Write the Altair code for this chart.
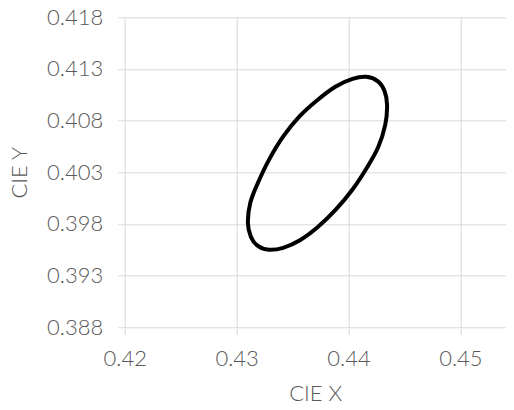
import altair as alt
import pandas as pd

# Ellipse outline points (CIE x, CIE y), traced around the loop
cie_x = [0.44345, 0.44329, 0.44266, 0.44163, 0.44036, 0.43886, 0.43726, 0.43566,
         0.43416, 0.43288, 0.43190, 0.43128, 0.43101, 0.43123, 0.43190, 0.43288,
         0.43417, 0.43566, 0.43726, 0.43886, 0.44036, 0.44159, 0.44263, 0.44323]
cie_y = [0.40950, 0.40761, 0.40544, 0.40341, 0.40133, 0.39938, 0.39770, 0.39642,
         0.39569, 0.39550, 0.39587, 0.39675, 0.39813, 0.40007, 0.40196, 0.40418,
         0.40647, 0.40845, 0.41002, 0.41130, 0.41204, 0.41224, 0.41180, 0.41085]

x_ticks = [0.42, 0.43, 0.44, 0.45]
y_ticks = [0.388, 0.393, 0.398, 0.403, 0.408, 0.413, 0.418]

df = pd.DataFrame({"x": cie_x, "y": cie_y, "i": list(range(len(cie_x)))})

FONT = "Lato"
TXT = "#595959"
GRID = "#d9d9d9"

chart = alt.Chart(df).mark_line(
    color="black", strokeWidth=4, interpolate="cardinal-closed"
).encode(
    x=alt.X("x:Q", scale=alt.Scale(domain=[0.42, 0.45405], nice=False, zero=False),
            axis=alt.Axis(values=x_ticks, format=".2f", title="CIE X",
                          titleY=73, titleBaseline="alphabetic",
                          labelPadding=14)),
    y=alt.Y("y:Q", scale=alt.Scale(domain=[0.388, 0.418], nice=False, zero=False),
            axis=alt.Axis(values=y_ticks, format=".3f", title="CIE Y",
                          titleX=-105, titleBaseline="middle",
                          labelPadding=15)),
    order="i:Q",
).properties(
    width=381, height=310,
    autosize=alt.AutoSizeParams(type="none"),
    padding={"left": 116.7, "top": 9.3, "right": 0, "bottom": 74},
).configure_axis(
    grid=True, gridColor=GRID, gridWidth=1,
    domain=False, ticks=True, tickColor=GRID, tickSize=7, tickWidth=1,
    labelFont=FONT, labelFontSize=22, labelColor=TXT, labelFontWeight=300,
    titleFont=FONT, titleFontSize=22, titleColor=TXT, titleFontWeight=300,
    labelFlush=False, labelOverlap=False,
).configure_view(stroke=None)

chart.save("out.html", embed_options={"renderer": "svg", "actions": False})
